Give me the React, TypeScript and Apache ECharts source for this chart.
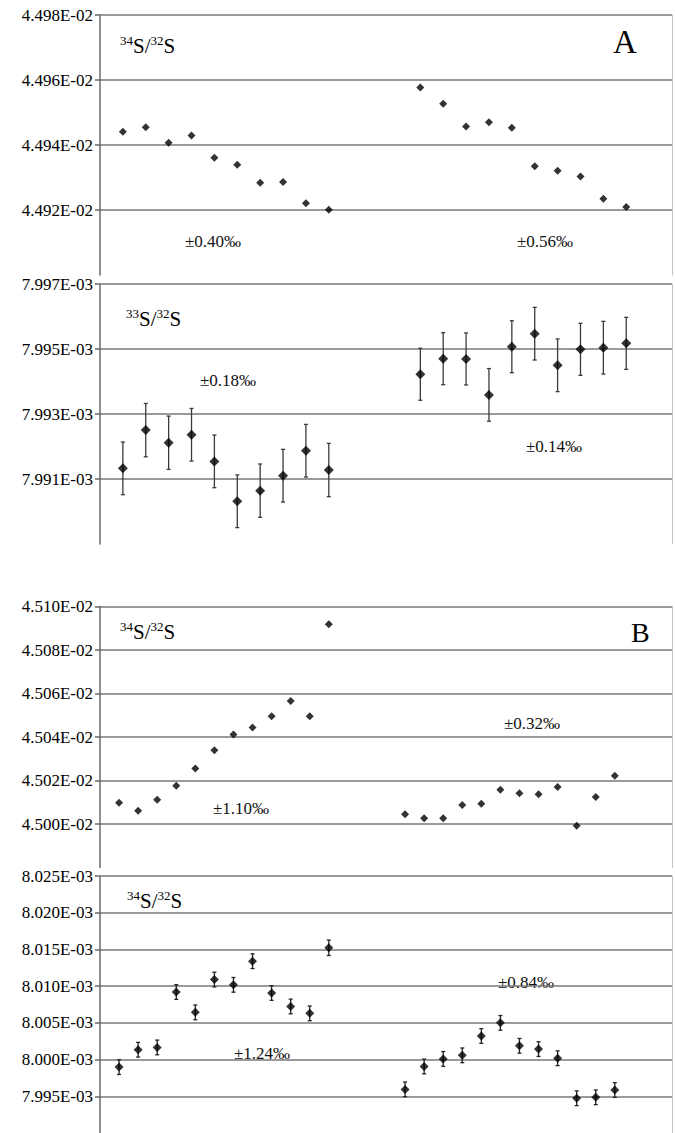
import React, { useEffect, useRef } from "react";
import * as echarts from "echarts";

// Panel A: run numbers and ratios
const runsA = [1, 2, 3, 4, 5, 6, 7, 8, 9, 10, 14, 15, 16, 17, 18, 19, 20, 21, 22, 23];
const a34 = [
  4.49441e-2, 4.49455e-2, 4.49407e-2, 4.49429e-2, 4.49361e-2, 4.49339e-2, 4.49284e-2, 4.49286e-2, 4.49221e-2, 4.49201e-2,
  4.49577e-2, 4.49527e-2, 4.49457e-2, 4.4947e-2, 4.49453e-2, 4.49335e-2, 4.49321e-2, 4.49303e-2, 4.49235e-2, 4.49209e-2,
];
const a33 = [
  7.991327e-3, 7.992504e-3, 7.992115e-3, 7.992361e-3, 7.991542e-3, 7.990315e-3, 7.990642e-3, 7.991102e-3, 7.99187e-3, 7.991276e-3,
  7.994223e-3, 7.994703e-3, 7.994693e-3, 7.993588e-3, 7.995072e-3, 7.995471e-3, 7.994499e-3, 7.99499e-3, 7.995041e-3, 7.995174e-3,
];
const a33Err = [
  8.1e-7, 8.2e-7, 8.2e-7, 8.1e-7, 8.1e-7, 8.1e-7, 8.2e-7, 8.1e-7, 8.1e-7, 8.2e-7,
  8.0e-7, 8.0e-7, 8.0e-7, 8.1e-7, 8.0e-7, 8.1e-7, 8.1e-7, 8.0e-7, 8.1e-7, 8.0e-7,
];

// Panel B
const runsB = [1, 2, 3, 4, 5, 6, 7, 8, 9, 10, 11, 12, 16, 17, 18, 19, 20, 21, 22, 23, 24, 25, 26, 27];
const b34 = [
  4.500982e-2, 4.500613e-2, 4.50112e-2, 4.501764e-2, 4.502546e-2, 4.50339e-2, 4.50411e-2, 4.504433e-2, 4.504954e-2, 4.50566e-2, 4.504954e-2, 4.509187e-2,
  4.500445e-2, 4.500261e-2, 4.500261e-2, 4.500874e-2, 4.500936e-2, 4.50158e-2, 4.501411e-2, 4.501365e-2, 4.501702e-2, 4.499923e-2, 4.501242e-2, 4.502224e-2,
];
const b34b = [
  7.998973e-3, 8.001339e-3, 8.001652e-3, 8.009196e-3, 8.006429e-3, 8.010893e-3, 8.010179e-3, 8.013393e-3, 8.009063e-3, 8.007232e-3, 8.006295e-3, 8.015223e-3,
  7.995938e-3, 7.999063e-3, 8.000089e-3, 8.00058e-3, 8.003214e-3, 8.005e-3, 8.001875e-3, 8.001429e-3, 8.000179e-3, 7.994732e-3, 7.994866e-3, 7.995848e-3,
];
const b34bErr = [
  1.0e-6, 1.0e-6, 1.0e-6, 1.0e-6, 1.0e-6, 1.0e-6, 1.0e-6, 1.0e-6, 1.0e-6, 1.0e-6, 1.0e-6, 1.05e-6,
  1.0e-6, 1.0e-6, 1.0e-6, 1.0e-6, 1.0e-6, 1.0e-6, 1.0e-6, 1.0e-6, 1.0e-6, 1.0e-6, 1.0e-6, 1.0e-6,
];

// Axis ranges (min, max, interval)
const yRanges = [
  [4.49e-2, 4.498e-2, 0.002e-2],
  [7.989e-3, 7.997e-3, 0.002e-3],
  [4.498e-2, 4.51e-2, 0.002e-2],
  [7.99e-3, 8.025e-3, 0.005e-3],
];
const xMax = [25, 25, 30, 30];

const titles = ["34|32", "33|32", "34|32", "34|32"];
const panelLetters = ["A", "B"];
const precisions = [
  ["±0.40‰", "±0.56‰"],
  ["±0.18‰", "±0.14‰"],
  ["±1.10‰", "±0.32‰"],
  ["±1.24‰", "±0.84‰"],
];

const SERIF = "Liberation Serif";

function fmt(v: number): string {
  const s = v.toExponential(3);
  const [m, e] = s.split("e");
  const n = parseInt(e, 10);
  return m.toUpperCase() + "E" + (n < 0 ? "-" : "+") + String(Math.abs(n)).padStart(2, "0");
}

export default function App() {
  const ref = useRef<HTMLDivElement>(null);
  useEffect(() => {
    if (!ref.current) return;
    const chart = echarts.init(ref.current, null, { renderer: "svg" });

    const grids = [
      { left: 100, right: 3, top: 15, height: 260 },
      { left: 100, right: 3, top: 284, height: 260 },
      { left: 100, right: 3, top: 606.5, height: 261 },
      { left: 100, right: 3, top: 876, height: 261 },
    ];

    const xAxes = grids.map((_, i) => ({
      gridIndex: i,
      type: "value",
      min: 0,
      max: xMax[i],
      show: false,
    }));

    const yAxes: any[] = [];
    yRanges.forEach((r, i) => {
      yAxes.push({
        gridIndex: i,
        type: "value",
        position: "left",
        min: r[0],
        max: r[1],
        interval: r[2],
        axisLine: { show: true, lineStyle: { color: "#6a6a6a", width: 1.5 } },
        axisTick: { show: true, length: 5, lineStyle: { color: "#6a6a6a", width: 1.5 } },
        axisLabel: {
          formatter: fmt,
          fontFamily: SERIF,
          fontSize: 17,
          color: "#000",
          margin: 7,
          showMinLabel: false,
        },
        splitLine: {
          show: true,
          showMinLine: false,
          lineStyle: { color: "#787878", width: 1.5 },
        },
      });
    });
    yRanges.forEach((r, i) => {
      yAxes.push({
        gridIndex: i,
        type: "value",
        position: "right",
        min: r[0],
        max: r[1],
        interval: r[2],
        axisLine: { show: true, lineStyle: { color: "#c4c4c4", width: 1 } },
        axisTick: { show: false },
        axisLabel: { show: false },
        splitLine: { show: false },
      });
    });

    const errRender = (color: string, lw: number, cap: number) => (params: any, api: any) => {
      const x = api.value(0);
      const lo = api.value(1);
      const hi = api.value(2);
      const p1 = api.coord([x, hi]);
      const p2 = api.coord([x, lo]);
      const st = { stroke: color, lineWidth: lw };
      return {
        type: "group",
        children: [
          { type: "line", shape: { x1: p1[0], y1: p1[1], x2: p2[0], y2: p2[1] }, style: st },
          { type: "line", shape: { x1: p1[0] - cap, y1: p1[1], x2: p1[0] + cap, y2: p1[1] }, style: st },
          { type: "line", shape: { x1: p2[0] - cap, y1: p2[1], x2: p2[0] + cap, y2: p2[1] }, style: st },
        ],
      };
    };

    const series: any[] = [
      {
        type: "scatter",
        xAxisIndex: 0,
        yAxisIndex: 0,
        symbol: "diamond",
        symbolSize: [8, 8],
        itemStyle: { color: "#000" },
        data: runsA.map((r, i) => [r, a34[i]]),
      },
      {
        type: "custom",
        xAxisIndex: 1,
        yAxisIndex: 1,
        renderItem: errRender("#3a3a3a", 1.3, 2),
        encode: { x: 0, y: [1, 2] },
        data: runsA.map((r, i) => [r, a33[i] - a33Err[i], a33[i] + a33Err[i]]),
        z: 1,
      },
      {
        type: "scatter",
        xAxisIndex: 1,
        yAxisIndex: 1,
        symbol: "diamond",
        symbolSize: [10, 10],
        itemStyle: { color: "#000" },
        data: runsA.map((r, i) => [r, a33[i]]),
        z: 2,
      },
      {
        type: "scatter",
        xAxisIndex: 2,
        yAxisIndex: 2,
        symbol: "diamond",
        symbolSize: [8, 8],
        itemStyle: { color: "#000" },
        data: runsB.map((r, i) => [r, b34[i]]),
      },
      {
        type: "custom",
        xAxisIndex: 3,
        yAxisIndex: 3,
        renderItem: errRender("#222", 1.3, 2),
        encode: { x: 0, y: [1, 2] },
        data: runsB.map((r, i) => [r, b34b[i] - b34bErr[i], b34b[i] + b34bErr[i]]),
        z: 1,
      },
      {
        type: "scatter",
        xAxisIndex: 3,
        yAxisIndex: 3,
        symbol: "diamond",
        symbolSize: [9, 9],
        itemStyle: { color: "#000" },
        data: runsB.map((r, i) => [r, b34b[i]]),
        z: 2,
      },
    ];

    const titlePos = [
      [120, 45],
      [126, 318],
      [120, 631],
      [127, 900],
    ];
    const precPos = [
      [[185, 241], [517, 241]],
      [[200, 380], [526, 446]],
      [[213, 808], [504, 723]],
      [[234, 1053], [498, 982]],
    ];
    const graphics: any[] = [];
    titles.forEach((t, i) => {
      const [p, q] = t.split("|");
      graphics.push({
        type: "text",
        x: titlePos[i][0],
        y: titlePos[i][1],
        style: {
          text: `{sup|${p}}{m|S/}{sup|${q}}{m|S}`,
          textVerticalAlign: "middle",
          rich: {
            sup: { fontFamily: SERIF, fontSize: 13, lineHeight: 13, verticalAlign: "top", fill: "#000" },
            m: { fontFamily: SERIF, fontSize: 21, lineHeight: 22, verticalAlign: "bottom", fill: "#000" },
          },
        },
      });
    });
    precisions.forEach((pair, i) => {
      pair.forEach((txt, j) => {
        graphics.push({
          type: "text",
          x: precPos[i][j][0],
          y: precPos[i][j][1],
          style: {
            text: txt,
            fontFamily: SERIF,
            fontSize: 17,
            fill: "#111",
            textVerticalAlign: "middle",
          },
        });
      });
    });
    graphics.push({
      type: "text",
      x: 613,
      y: 42,
      style: { text: panelLetters[0], fontFamily: SERIF, fontSize: 33, fill: "#000", textVerticalAlign: "middle" },
    });
    graphics.push({
      type: "text",
      x: 631,
      y: 632,
      style: { text: panelLetters[1], fontFamily: SERIF, fontSize: 28, fill: "#000", textVerticalAlign: "middle" },
    });

    chart.setOption({
      animation: false,
      backgroundColor: "#fff",
      grid: grids,
      xAxis: xAxes,
      yAxis: yAxes,
      series,
      graphic: graphics,
    });
    return () => chart.dispose();
  }, []);

  return (
    <div
      ref={ref}
      style={{ position: "absolute", left: 0, top: 0, width: 675, height: 1133, background: "#fff" }}
    />
  );
}
